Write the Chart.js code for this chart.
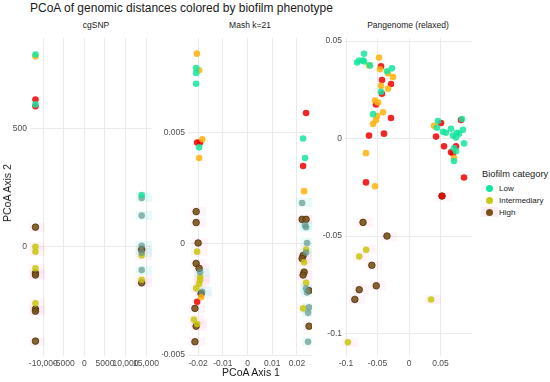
<!DOCTYPE html>
<html lang="en">
<head>
<meta charset="UTF-8">
<title>PCoA of genomic distances colored by biofilm phenotype</title>
<script src="https://cdn.jsdelivr.net/npm/chart.js@4"></script>
<style>
    body {margin: 0; background: #fff; font-family: 'Liberation Sans', Arial, sans-serif; color: #1a1a1a}
    #wrap {position: relative; width: 550px; height: 382px; overflow: hidden}
    .t {position: absolute; white-space: nowrap}
    .mid {transform: translateX(-50%)}
    canvas {position: absolute}
    .key {position: absolute; width: 7px; height: 7px; border-radius: 50%}
</style>
</head>
<body>
<div id="wrap">
    <div class="t" style="left:30px;top:1px;font-size:12px">PCoA of genomic distances colored by biofilm phenotype</div>

    <div class="t mid" style="left:96px;top:20px;font-size:8.5px">cgSNP</div>
    <div class="t mid" style="left:250px;top:20px;font-size:8.5px">Mash k=21</div>
    <div class="t mid" style="left:408px;top:20px;font-size:8.5px">Pangenome (relaxed)</div>

    <canvas id="c1" width="162" height="340" style="left:0;top:30px"></canvas>
    <canvas id="c2" width="150" height="340" style="left:162px;top:30px"></canvas>
    <canvas id="c3" width="160" height="340" style="left:312px;top:30px"></canvas>

    <div class="t mid" style="left:251px;top:366px;font-size:10.5px">PCoA Axis 1</div>
    <div class="t" style="left:7px;top:193px;font-size:10.5px;transform:translate(-50%,-50%) rotate(-90deg)">PCoA Axis 2</div>

    <!-- legend -->
    <div class="t" style="left:482px;top:169px;font-size:9.3px">Biofilm category</div>
    <div style="position:absolute;left:481px;top:207px;width:17px;height:10px;background:#fdedf6"></div>
    <div class="key" style="left:486px;top:185px;background:#14e69c"></div>
    <div class="key" style="left:486px;top:197px;background:#c8c814"></div>
    <div class="key" style="left:486px;top:209px;background:#7a5218"></div>
    <div class="t" style="left:499px;top:184px;font-size:8px">Low</div>
    <div class="t" style="left:499px;top:196px;font-size:8px">Intermediary</div>
    <div class="t" style="left:499px;top:208px;font-size:8px">High</div>
</div>

<script>
// ---- cgSNP ----
let cgXTicks = [-10000, -5000, 0, 5000, 10000, 15000]
let cgXLabels = ['-10,000', '-5000', '0', '5000', '10,000', '15,000']
let cgYTicks = [0, 500]
let cgYLabels = ['0', '500']
let cgXRange = [-13230, 16370]
let cgYRange = [-463, 884]
// bright layer
let cgLowB = [[-11900, 814], [-11900, 603], [13950, 219]]
let cgMidB = [[-11900, 806]]
let cgHighB = [[-11900, 624], [-11900, 595]]
// dark layer
let cgLow = [[13950, 207], [13950, 132], [13950, 4], [13950, -25], [13950, -99]]
let cgMid = [[-11900, 0], [-11900, -21], [-11900, -91], [-11900, -240], [13950, -37], [13950, -140]]
let cgHigh = [[-11900, 83], [-11900, -112], [-11900, -120], [-11900, -264], [-11900, -273], [-11900, -400], [13950, -12], [13950, -153]]

// ---- Mash k=21 ----
let mashXTicks = [-0.02, -0.01, 0, 0.01, 0.02]
let mashXLabels = ['-0.02', '-0.01', '0', '0.01', '0.02']
let mashYTicks = [-0.005, 0, 0.005]
let mashYLabels = ['-0.005', '0', '0.005']
let mashXRange = [-0.0241, 0.0261]
let mashYRange = [-0.00504, 0.00925]
let mashLowB = [[-0.0208, 0.0079], [-0.0208, 0.00768], [-0.0208, 0.0072], [-0.0196, 0.00434], [0.0225, 0.00474], [0.0233, 0.00386]]
let mashMidB = [[-0.0205, 0.00855], [-0.0196, 0.0078], [-0.0183, 0.0047], [-0.0196, 0.00386], [0.0229, 0.00237], [-0.0188, -0.0024]]
let mashHighB = [[0.0237, 0.00588], [-0.0204, 0.00456], [-0.0192, 0.00456], [0.0225, 0.0035], [-0.0204, -0.0026]]
let mashLow = [[0.0221, 0.00184], [0.0233, 0.00083], [0.0237, 0.00075], [0.0241, 0.00004], [0.0237, -0.00039],
    [-0.0192, -0.00127], [-0.0184, -0.00215], [0.0237, -0.002], [0.0241, -0.00219], [0.0249, -0.00285],
    [0.0245, -0.0031], [0.0245, -0.0044]]
let mashMid = [[-0.0204, -0.00035], [-0.0192, -0.0015], [-0.0192, -0.00162], [-0.0196, -0.0018], [-0.0208, -0.002],
    [-0.0217, -0.0034], [-0.0204, -0.0036], [0.0237, -0.00026], [0.0229, -0.00083], [0.0237, -0.00175], [0.0225, -0.0029]]
let mashHigh = [[-0.0208, 0.00145], [-0.0208, 0.00096], [-0.02, 0.00004], [-0.0208, -0.00088], [-0.0196, -0.0011],
    [-0.0188, -0.00224], [-0.0213, -0.0029], [-0.0208, -0.0037], [-0.0213, -0.0044], [0.0221, 0.0011],
    [0.0237, 0.0011], [0.0225, -0.00053], [0.0221, -0.00066], [0.0229, -0.00127], [0.0225, -0.0014],
    [0.0249, -0.0021], [0.0249, -0.0037]]

// ---- Pangenome (relaxed) ----
let panXTicks = [-0.1, -0.05, 0, 0.05]
let panXLabels = ['-0.1', '-0.05', '0', '0.05']
let panYTicks = [-0.1, -0.05, 0, 0.05]
let panYLabels = ['-0.1', '-0.05', '0', '0.05']
let panXRange = [-0.1016, 0.1]
let panYRange = [-0.1115, 0.0515]
let panLowB = [[-0.0714, 0.0435], [-0.0825, 0.039], [-0.0794, 0.04], [-0.073, 0.04], [-0.0714, 0.0395],
    [-0.0619, 0.0375], [-0.0349, 0.0345], [-0.027, 0.036], [-0.0444, 0.024], [-0.0571, 0.0125],
    [0.046, 0.009], [0.0444, 0.0055], [0.054, 0.0035], [0.0667, 0.005], [0.0762, 0.003], [0.0841, 0.01],
    [0.0857, 0.0045], [0.0794, 0.0025], [0.0746, 0.0005], [0.0873, -0.0025], [0.0714, -0.005],
    [0.0746, -0.0065], [0.0714, -0.0115], [0.0587, 0.003], [0.0698, 0.0015]]
let panMidB = [[-0.0635, 0.0375], [-0.0476, 0.0415], [-0.046, 0.0355], [-0.0333, 0.0335], [-0.0254, 0.0315],
    [-0.0444, 0.027], [-0.0333, 0.0255], [-0.054, 0.0195], [-0.0492, 0.0185], [-0.0413, 0.0135],
    [-0.0508, 0.0115], [-0.0524, 0.0095], [-0.0571, 0.0075], [-0.0683, -0.0075], [-0.054, -0.0245],
    [0.0397, 0.0065], [0.0714, -0.01]]
let panHighB = [[-0.0444, 0.037], [-0.0429, 0.03], [-0.0286, 0.028], [-0.0429, 0.023], [-0.0524, 0.0175],
    [-0.0286, 0.0105], [-0.0635, 0.0015], [-0.0397, 0.0025], [-0.0683, -0.0225], [0.0508, 0.008],
    [0.0429, 0.001], [0.0825, 0.0095], [0.0556, -0.004], [0.0746, -0.004], [0.0667, -0.007],
    [0.0698, -0.0075], [0.0873, -0.02], [0.0524, -0.0295]]
let panLow = []
let panMid = [[-0.068, -0.057], [-0.079, -0.0605], [0.035, -0.0825], [-0.097, -0.1045]]
let panHigh = [[0.0524, -0.0295], [-0.073, -0.043], [-0.035, -0.05], [-0.059, -0.065], [-0.052, -0.0755],
    [-0.079, -0.0775], [-0.086, -0.0825]]

// faint label boxes behind the dark points
function boxImg(color) {
    let c = document.createElement('canvas')
    c.width = 20; c.height = 9
    let g = c.getContext('2d')
    g.fillStyle = color
    g.fillRect(4, 0, 16, 9)
    return c
}
let pinkBox = boxImg('rgba(250,170,215,0.13)')
let cyanBox = boxImg('rgba(110,240,225,0.17)')

function pts(arr) { return arr.map(p => ({x: p[0], y: p[1]})) }

function dot(data, color, order, border) {
    return {
        data: pts(data), backgroundColor: color, borderColor: border || color,
        borderWidth: border ? 0.8 : 0, pointRadius: 3.3, order: order, clip: false
    }
}

function makePanel(id, yw, xr, yr, xt, xl, yt, yl, low, mid, high, lowB, midB, highB) {
    let sets = [
        dot(lowB, 'rgba(20,230,156,0.85)', 1),
        dot(midB, 'rgba(255,178,10,0.85)', 1),
        dot(highB, 'rgba(238,0,0,0.85)', 1),
        dot(low, 'rgba(100,150,138,0.7)', 2),
        dot(mid, 'rgba(200,200,10,0.85)', 2),
        dot(high, 'rgba(122,82,24,0.9)', 2, '#4d3308'),
        {data: pts(low), pointStyle: cyanBox, pointRadius: 5, order: 3, clip: false},
        {data: pts(mid.concat(high)), pointStyle: pinkBox, pointRadius: 5, order: 3, clip: false}
    ]
    let tickFont = {family: "'Liberation Sans', Arial, sans-serif", size: 8.5}
    new Chart(document.getElementById(id), {
        type: 'scatter',
        data: {datasets: sets},
        options: {
            responsive: false,
            animation: false,
            events: [],
            layout: {padding: 0, autoPadding: false},
            plugins: {legend: {display: false}, tooltip: {enabled: false}},
            scales: {
                x: {
                    type: 'linear', min: xr[0], max: xr[1],
                    afterBuildTicks: s => { s.ticks = xt.map(v => ({value: v})) },
                    afterFit: s => { s.height = 14 },
                    grid: {color: '#ebebeb', lineWidth: 1, drawTicks: false},
                    border: {display: false},
                    ticks: {autoSkip: false, maxRotation: 0, padding: 3, color: '#4d4d4d', font: tickFont,
                        callback: v => xl[xt.indexOf(v)]}
                },
                y: {
                    type: 'linear', min: yr[0], max: yr[1],
                    afterBuildTicks: s => { s.ticks = yt.map(v => ({value: v})) },
                    afterFit: s => { s.width = yw },
                    grid: {color: '#ebebeb', lineWidth: 1, drawTicks: false},
                    border: {display: false},
                    ticks: {autoSkip: false, padding: 3, color: '#4d4d4d', font: tickFont,
                        callback: v => yl[yt.indexOf(v)]}
                }
            }
        }
    })
}

makePanel('c1', 30, cgXRange, cgYRange, cgXTicks, cgXLabels, cgYTicks, cgYLabels,
    cgLow, cgMid, cgHigh, cgLowB, cgMidB, cgHighB)
makePanel('c2', 26, mashXRange, mashYRange, mashXTicks, mashXLabels, mashYTicks, mashYLabels,
    mashLow, mashMid, mashHigh, mashLowB, mashMidB, mashHighB)
makePanel('c3', 33, panXRange, panYRange, panXTicks, panXLabels, panYTicks, panYLabels,
    panLow, panMid, panHigh, panLowB, panMidB, panHighB)
</script>
</body>
</html>
